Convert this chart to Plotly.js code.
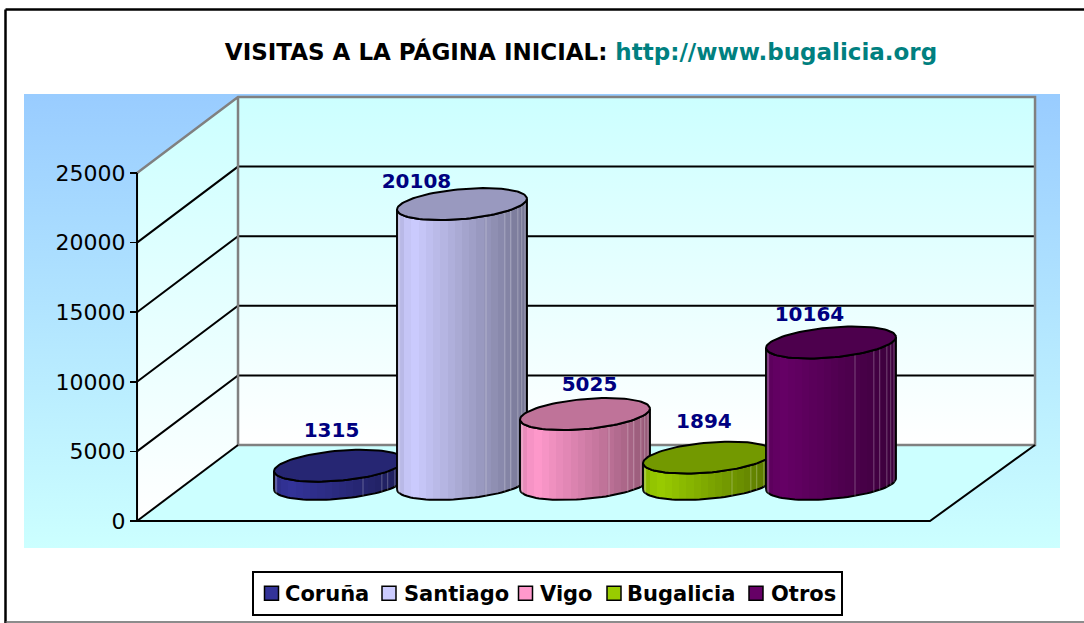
<!DOCTYPE html>
<html><head><meta charset="utf-8">
<script src="https://cdn.plot.ly/plotly-3.0.1.min.js"></script>
<style>html,body{margin:0;padding:0;background:#fff;overflow:hidden}#c{width:1084px;height:623px}</style>
</head><body><div id="c"></div>
<script>
// ---- data ----
var categories = ['Coruña','Santiago','Vigo','Bugalicia','Otros'];
var values = [1315,20108,5025,1894,10164];
var barColors = ['#333399','#CCCCFF','#FF99CC','#99CC00','#660066'];
var labelDx = [-0.061,-0.37,0.037,-0.033,-0.175];
var labelDy = [2440,1500,2015,2518,1936];
var yTicks = [0,5000,10000,15000,20000,25000];

// ---- geometry in axis units (x: one unit per category, y: value units) ----
var W=1084,H=623;
var xPerPx=1/123, yPerPx=25000/348;
var xRange=[-2.561,5.862], yRange=[-1940,30675];
var frontL=-1.642, frontR=4.805, backL=-0.821, backR=5.659, depthY=5460, topV=25000;
var rx=0.528, ry=15*yPerPx, shear=5.5*yPerPx, baseV=2660;
var facetX=[0.37,0.66,0.75,0.86,0.92,0.97,-0.96,-0.98];
// legend item positions
var legendLeft=252, legendRight=841;
var legendTextX=[285,404,540,627,771], legendSymX=[271.5,389,525.5,614,756];

function scale(hex,f){var n=parseInt(hex.slice(1),16);
  return 'rgb('+[(n>>16)&255,(n>>8)&255,n&255].map(function(c){return Math.round(c*f)}).join(',')+')';}
function bright(u){return u<0.12?0.88+u:1-0.42*(u-0.12)/0.88;}
function bands(hex){var out=[],n=18;for(var i=0;i<n;i++){var c=scale(hex,bright((i+.5)/n));out.push([i/n,c]);out.push([(i+1)/n,c]);}return out;}
function ey(center,t){return center-ry*Math.sin(t)+shear*Math.cos(t);}

var traces=[];
function poly(xs,ys,o){traces.push(Object.assign({type:'scatter',mode:'lines',x:xs,y:ys,hoverinfo:'skip',showlegend:false,line:{width:0},cliponaxis:false},o));}

// legend entries
categories.forEach(function(c,i){
  traces.push({type:'scatter',mode:'markers',x:[null],y:[null],name:c,hoverinfo:'skip',
    marker:{symbol:'square',size:14,color:barColors[i],line:{color:'#000',width:1.5}}});
});
// background
poly([xRange[0],xRange[1],xRange[1],xRange[0],xRange[0]],[yRange[0],yRange[0],yRange[1],yRange[1],yRange[0]],
 {fill:'toself',fillgradient:{type:'vertical',colorscale:[[0,'#CCFFFF'],[1,'#99CCFF']]}});
// floor
poly([frontL,backL,backR,frontR,frontL],[0,depthY,depthY,0,0],{fill:'toself',fillcolor:'#CCFFFF'});
// walls
var wallGrad={type:'vertical',colorscale:[[0,'#FFFFFF'],[1,'#CCFFFF']]};
poly([frontL,backL,backL,frontL,frontL],[0,depthY,topV+depthY,topV,0],{fill:'toself',fillgradient:wallGrad});
poly([backL,backR,backR,backL,backL],[depthY,depthY,topV+depthY,topV+depthY,depthY],{fill:'toself',fillgradient:wallGrad});
// gridlines
var gx=[],gy=[];
yTicks.slice(1,-1).forEach(function(v){gx.push(frontL,backL,backR,null);gy.push(v,v+depthY,v+depthY,null);});
poly(gx,gy,{line:{color:'#000',width:2}});
// wall edges
poly([frontL,backL,backR,backR,backL,backL],[topV,topV+depthY,topV+depthY,depthY,depthY,topV+depthY],{line:{color:'#808080',width:2.5}});
// floor edges and front axis line
poly([frontL,frontL,frontR,backR,null,frontL,backL],[topV,0,0,depthY,null,0,depthY],{line:{color:'#000',width:2}});
// cylinders
values.forEach(function(v,i){
  var topC=baseV+v,N=48,arcB=[],arcT=[],bx=[],tx=[],k,t;
  for(k=0;k<=N;k++){t=Math.PI*(1-k/N);bx.push(i+rx*Math.cos(t));arcB.push(ey(baseV,t));}
  var xs=bx.concat(bx.slice().reverse(),[bx[0]]);
  var ys=arcB.concat(arcB.map(function(y){return y+v}).reverse(),[arcB[0]]);
  poly(xs,ys,{fill:'toself',fillgradient:{type:'horizontal',colorscale:bands(barColors[i])},line:{color:'#000',width:2}});
  var fx=[],fy=[];
  facetX.forEach(function(f){var a=Math.acos(f);fx.push(i+rx*f,i+rx*f,null);fy.push(ey(baseV,a),ey(topC,a),null);});
  poly(fx,fy,{line:{color:'rgba(255,255,255,0.28)',width:1}});
  for(k=0,tx=[],ys=[];k<=2*N;k++){t=Math.PI*k/N;tx.push(i+rx*Math.cos(t));ys.push(ey(topC,t));}
  poly(tx,ys,{fill:'toself',fillcolor:scale(barColors[i],0.75),line:{color:'#000',width:2}});
});
// data labels
traces.push({type:'scatter',mode:'text',hoverinfo:'skip',showlegend:false,cliponaxis:false,
  x:values.map(function(v,i){return i+labelDx[i]}),
  y:values.map(function(v,i){return baseV+v+labelDy[i]}),
  text:values.map(String),textposition:'middle center',
  textfont:{family:'DejaVu Sans',size:20,color:'#000080',weight:700}});

var layout={width:W,height:H,margin:{l:0,r:0,t:0,b:0,pad:0},paper_bgcolor:'#fff',plot_bgcolor:'rgba(0,0,0,0)',
  font:{family:'DejaVu Sans',color:'#000'},
  title:{text:'<b>VISITAS A LA PÁGINA INICIAL: <span style="color:#008080">http://www.bugalicia.org</span></b>',
    x:581/W,xanchor:'center',y:1-52/H,yanchor:'middle',font:{family:'DejaVu Sans',size:23,color:'#000'}},
  xaxis:{domain:[24/W,1060/W],range:xRange,visible:false,fixedrange:true},
  yaxis:{domain:[(H-548)/H,(H-94)/H],range:yRange,anchor:'free',position:137/W,tickmode:'array',tickvals:yTicks,
    ticktext:yTicks.map(String),ticks:'outside',ticklen:7,tickwidth:1.5,tickcolor:'#000',showgrid:false,zeroline:false,showline:false,
    tickfont:{family:'DejaVu Sans',size:22,color:'#000'},fixedrange:true},
  legend:{orientation:'h',x:legendLeft/W,xanchor:'left',y:1-571/H,yanchor:'top',bgcolor:'#fff',bordercolor:'#000',borderwidth:2,
    font:{family:'DejaVu Sans',size:21,color:'#000',weight:700},itemclick:false,itemdoubleclick:false},
  showlegend:true,
  shapes:[
   {type:'line',xref:'paper',yref:'paper',x0:5.5/W,x1:1,y0:1-9.5/H,y1:1-9.5/H,line:{color:'#000',width:2.5}},
   {type:'line',xref:'paper',yref:'paper',x0:5.5/W,x1:5.5/W,y0:1-9.5/H,y1:0,line:{color:'#000',width:2.5}},
   {type:'line',xref:'paper',yref:'paper',x0:5.5/W,x1:1,y0:1-622/H,y1:1-622/H,line:{color:'#666',width:1.5}}
  ]};
Plotly.newPlot('c',traces,layout,{displayModeBar:false,staticPlot:true}).then(function(gd){
  // tighten the legend's item spacing, which Plotly has a minimum for
  var items=gd.querySelectorAll('.legend .traces');
  items.forEach(function(g,i){
    var m=/translate\(([-\d.]+)[, ]+([-\d.]+)\)/.exec(g.getAttribute('transform')||'');
    if(!m) return;
    var tx=legendTextX[i]-legendLeft-40;
    g.setAttribute('transform','translate('+tx+','+m[2]+')');
    var s=g.querySelector('.legendpoints');
    if(s) s.setAttribute('transform','translate('+(legendSymX[i]-legendLeft-tx-20)+',0)');
  });
  var bg=gd.querySelector('.legend .bg');
  if(bg) bg.setAttribute('width',legendRight-legendLeft);
});
</script></body></html>
